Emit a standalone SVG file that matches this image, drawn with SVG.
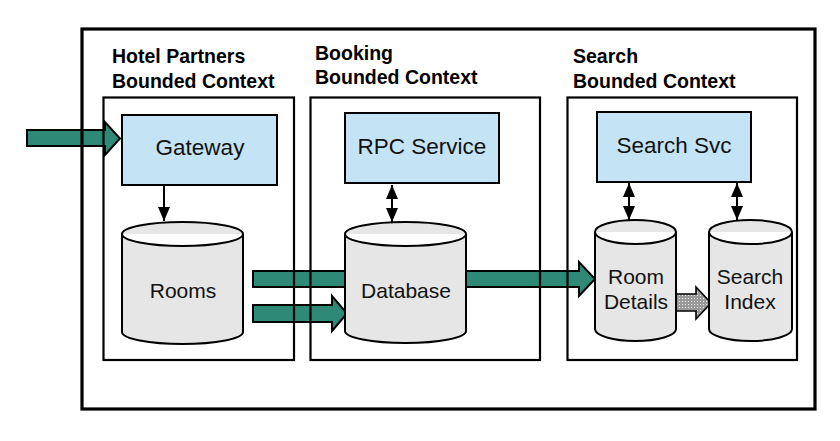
<svg xmlns="http://www.w3.org/2000/svg" width="840" height="441" viewBox="0 0 840 441">
<defs>
<style>
.ctx{fill:none;stroke:#000;stroke-width:2.2}
.outer{fill:none;stroke:#000;stroke-width:3.2}
.svc{fill:#c4e4f6;stroke:#000;stroke-width:2}
.cyl{fill:#e6e6e6;stroke:#000;stroke-width:2}
.big{fill:#2e8a76;stroke:#000;stroke-width:2;stroke-linejoin:miter}
.grey{fill:url(#dots);stroke:#000;stroke-width:1.6}
.thin{stroke:#000;stroke-width:2;fill:none}
.lbl{font-family:"Liberation Sans",Arial,sans-serif;font-size:19.5px;font-weight:bold;fill:#000}
.t1{font-family:"Liberation Sans",Arial,sans-serif;font-size:22.5px;fill:#111;text-anchor:middle}
.t2{font-family:"Liberation Sans",Arial,sans-serif;font-size:21px;fill:#111;text-anchor:middle}
</style>
<pattern id="dots" width="3" height="3" patternUnits="userSpaceOnUse">
<rect width="3" height="3" fill="#999"/>
<rect x="1" y="1" width="1" height="1" fill="#eee"/>
</pattern>
<marker id="ah" markerUnits="userSpaceOnUse" markerWidth="14" markerHeight="12" refX="14" refY="6" orient="auto-start-reverse">
<path d="M0,0 L14,6 L0,12 z" fill="#000"/>
</marker>
</defs>
<rect width="840" height="441" fill="#fff"/>
<g id="connectors">
<polygon class="big" points="27,130 105,130 105,122 120,138.5 105,155 105,146 27,146"/>
<polygon class="big" points="253,271 579,271 579,262 595,279 579,296 579,287 253,287"/>
<polygon class="big" points="253,305 332,305 332,296 347,313.5 332,331 332,322 253,322"/>
<polygon class="grey" points="676,294 696,294 696,287 711,303 696,319 696,311 676,311"/>
<line class="thin" x1="164" y1="186" x2="164" y2="221" marker-end="url(#ah)"/>
<line class="thin" x1="392" y1="185" x2="392" y2="222" marker-start="url(#ah)" marker-end="url(#ah)"/>
<line class="thin" x1="629" y1="183" x2="629" y2="220" marker-start="url(#ah)" marker-end="url(#ah)"/>
<line class="thin" x1="737" y1="183" x2="737" y2="220" marker-start="url(#ah)" marker-end="url(#ah)"/>
</g>
<g id="system">
<rect class="outer" x="82" y="29" width="733" height="380"/>
</g>
<g id="ctx-hotel">
<rect class="ctx" x="103.5" y="97.5" width="190.5" height="262.5"/>
<text class="lbl" x="112" y="63">Hotel Partners</text>
<text class="lbl" x="112" y="88">Bounded Context</text>
</g>
<g id="ctx-booking">
<rect class="ctx" x="310.5" y="97.5" width="229.5" height="262.5"/>
<text class="lbl" x="315" y="60">Booking</text>
<text class="lbl" x="315" y="84">Bounded Context</text>
</g>
<g id="ctx-search">
<rect class="ctx" x="567.5" y="97.5" width="229.5" height="262.5"/>
<text class="lbl" x="573" y="63">Search</text>
<text class="lbl" x="573" y="88">Bounded Context</text>
</g>
<g id="gateway">
<rect class="svc" x="122" y="115" width="155" height="70"/>
<text class="t1" x="200" y="155">Gateway</text>
</g>
<g id="rpc-service">
<rect class="svc" x="345" y="113" width="154" height="70"/>
<text class="t1" x="422" y="154">RPC Service</text>
</g>
<g id="search-svc">
<rect class="svc" x="597" y="112" width="154" height="70"/>
<text class="t1" x="674" y="153">Search Svc</text>
</g>
<g id="rooms">
<path class="cyl" d="M122,234 A60.5,12 0 0 1 243,234 L243,332 A60.5,12 0 0 1 122,332 Z M122,234 A60.5,12 0 0 0 243,234"/>
<text class="t2" x="183" y="298">Rooms</text>
</g>
<g id="database">
<path class="cyl" d="M345,234 A60.5,12 0 0 1 466,234 L466,331 A60.5,12 0 0 1 345,331 Z M345,234 A60.5,12 0 0 0 466,234"/>
<text class="t2" x="406" y="298">Database</text>
</g>
<g id="room-details">
<path class="cyl" d="M595,232 A40.5,12 0 0 1 676,232 L676,329 A40.5,12 0 0 1 595,329 Z M595,232 A40.5,12 0 0 0 676,232"/>
<text class="t2" x="636" y="284">Room</text>
<text class="t2" x="636" y="309">Details</text>
</g>
<g id="search-index">
<path class="cyl" d="M709,232 A41.5,12 0 0 1 792,232 L792,329 A41.5,12 0 0 1 709,329 Z M709,232 A41.5,12 0 0 0 792,232"/>
<text class="t2" x="750" y="284">Search</text>
<text class="t2" x="750" y="309">Index</text>
</g>
</svg>
